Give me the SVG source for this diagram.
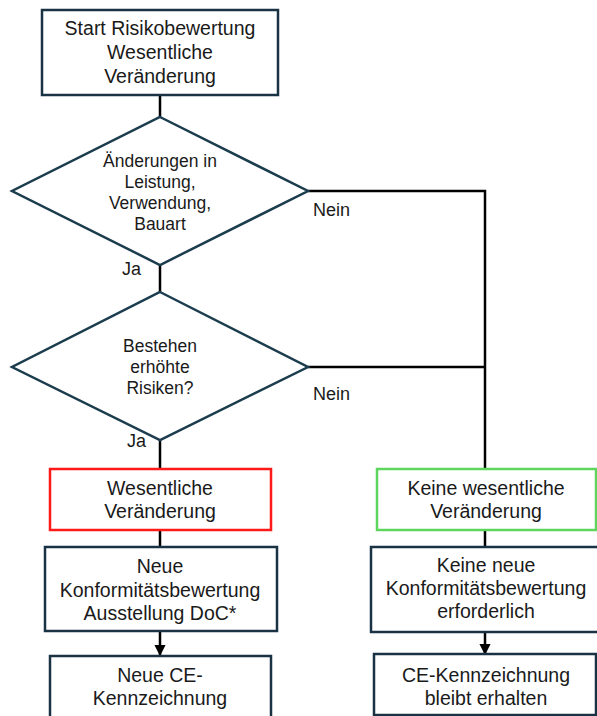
<svg xmlns="http://www.w3.org/2000/svg" width="597" height="716" viewBox="0 0 597 716">
<defs>
<style>
.box{fill:#fff;stroke:#1a3344;stroke-width:2.5}
.dia{fill:#fff;stroke:#1c3d4e;stroke-width:2.5}
.red{fill:#fff;stroke:#ff1a1a;stroke-width:2.5}
.green{fill:#fff;stroke:#5ed65e;stroke-width:2.5}
.con{fill:none;stroke:#000;stroke-width:2.5}
text{font-family:"Liberation Sans",Arial,sans-serif;fill:#1a1a1a}
.t{font-size:19.5px;text-anchor:middle}
.d{font-size:17.5px;text-anchor:middle}
.l{font-size:18px}
</style>
<marker id="arr" viewBox="0 0 10 10" refX="9" refY="5" markerWidth="4.5" markerHeight="4.5" orient="auto" markerUnits="strokeWidth">
<path d="M0,0 L10,5 L0,10 z" fill="#000"/>
</marker>
</defs>
<g id="connectors">
<path class="con" d="M160,95 V117"/>
<path class="con" d="M160,265 V292"/>
<path class="con" d="M160,440 V469"/>
<path class="con" d="M160,530 V547"/>
<path class="con" d="M160,631 V655" marker-end="url(#arr)"/>
<path class="con" d="M308,191 H485 V469"/>
<path class="con" d="M308,367 H485"/>
<path class="con" d="M485,530 V547"/>
<path class="con" d="M485,632 V654" marker-end="url(#arr)"/>
<text class="l" x="313" y="216">Nein</text>
<text class="l" x="313" y="400">Nein</text>
<text class="l" x="122" y="275">Ja</text>
<text class="l" x="127" y="447">Ja</text>
</g>
<g id="start">
<rect class="box" x="42" y="10" width="236" height="85"/>
<text class="t" x="160" y="35">Start Risikobewertung</text>
<text class="t" x="160" y="59">Wesentliche</text>
<text class="t" x="160" y="83">Veränderung</text>
</g>
<g id="decision1">
<polygon class="dia" points="160,117 308,191 160,265 12,191"/>
<text class="d" x="160" y="167">Änderungen in</text>
<text class="d" x="160" y="188">Leistung,</text>
<text class="d" x="160" y="209">Verwendung,</text>
<text class="d" x="160" y="230">Bauart</text>
</g>
<g id="decision2">
<polygon class="dia" points="160,292 308,367 160,440 12,367"/>
<text class="d" x="160" y="352">Bestehen</text>
<text class="d" x="160" y="373">erhöhte</text>
<text class="d" x="160" y="394">Risiken?</text>
</g>
<g id="wesentlich">
<rect class="red" x="50" y="469" width="221" height="61"/>
<text class="t" x="160" y="495">Wesentliche</text>
<text class="t" x="160" y="518">Veränderung</text>
</g>
<g id="neuekonf">
<rect class="box" x="45" y="547" width="232" height="84"/>
<text class="t" x="160" y="573">Neue</text>
<text class="t" x="160" y="597">Konformitätsbewertung</text>
<text class="t" x="160" y="620">Ausstellung DoC*</text>
</g>
<g id="neuece">
<rect class="box" x="50" y="656" width="221" height="70"/>
<text class="t" x="160" y="682">Neue CE-</text>
<text class="t" x="160" y="705">Kennzeichnung</text>
</g>
<g id="keinewesentlich">
<rect class="green" x="377" y="469" width="219" height="61"/>
<text class="t" x="486" y="495">Keine wesentliche</text>
<text class="t" x="486" y="518">Veränderung</text>
</g>
<g id="keinekonf">
<rect class="box" x="371" y="547" width="232" height="85"/>
<text class="t" x="486" y="572">Keine neue</text>
<text class="t" x="486" y="595">Konformitätsbewertung</text>
<text class="t" x="486" y="618">erforderlich</text>
</g>
<g id="ceerhalten">
<rect class="box" x="374" y="654" width="222" height="61"/>
<text class="t" x="486" y="682">CE-Kennzeichnung</text>
<text class="t" x="486" y="705">bleibt erhalten</text>
</g>
</svg>
